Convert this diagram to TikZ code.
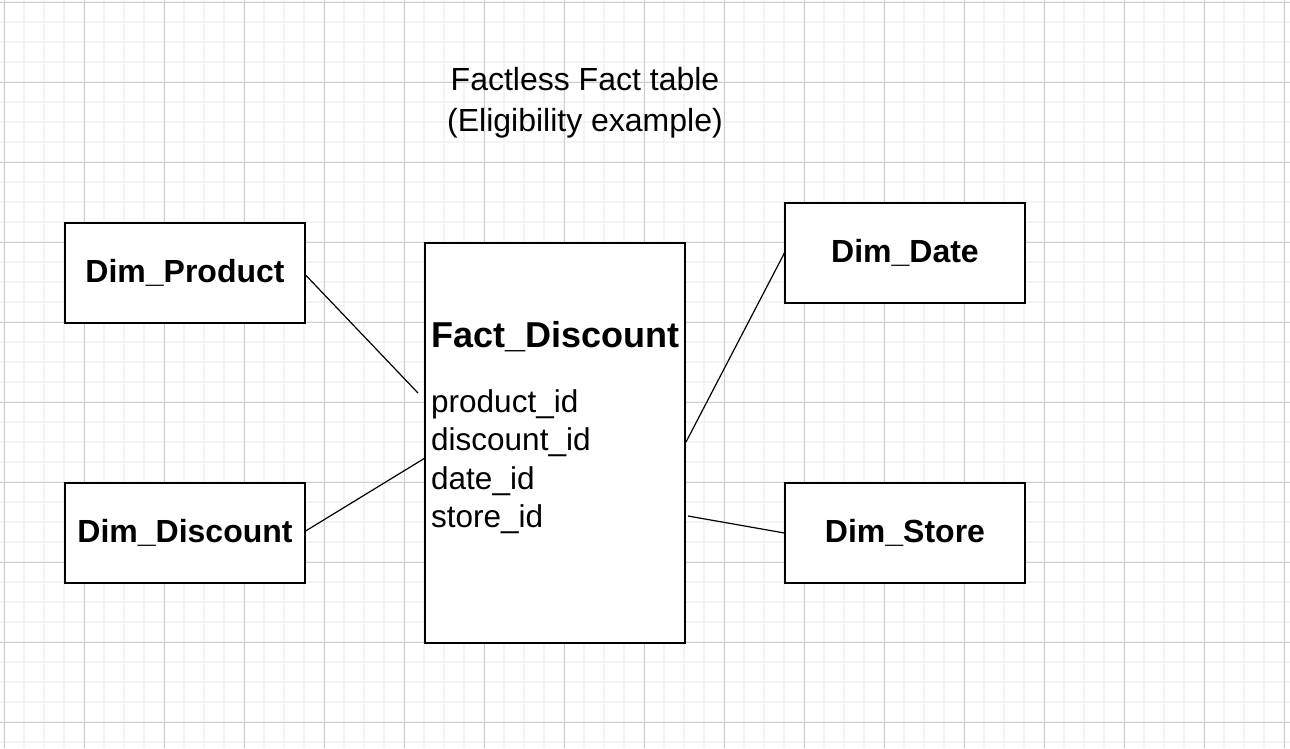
\documentclass[tikz,border=0pt]{standalone}
\usepackage{fontspec}
\setmainfont{Liberation Sans}
\begin{document}
\begin{tikzpicture}[x=1pt,y=-1pt,
  dimbox/.style={draw,line width=1.2pt,fill=white,minimum width=240pt,minimum height=100pt,font=\fontsize{32}{36}\selectfont\bfseries,inner sep=0pt},
  link/.style={line width=1.2pt}]
\useasboundingbox (0,0) rectangle (1290,748);
\fill[white] (0,0) rectangle (1290,748);
\foreach \i in {0,...,64} {\draw[line width=1.6pt,color={rgb,255:red,244;green,244;blue,244}] (4+20*\i,0) -- (4+20*\i,748);}
\foreach \i in {0,...,37} {\draw[line width=1.6pt,color={rgb,255:red,244;green,244;blue,244}] (0,2+20*\i) -- (1290,2+20*\i);}
\foreach \i in {0,...,16} {\draw[line width=0.7pt,color={rgb,255:red,205;green,205;blue,205}] (4+80*\i,0) -- (4+80*\i,748);}
\foreach \i in {0,...,9} {\draw[line width=0.7pt,color={rgb,255:red,205;green,205;blue,205}] (0,2+80*\i) -- (1290,2+80*\i);}
\node[align=center,font=\fontsize{32}{41}\selectfont] (title) at (585,103) {Factless Fact table\\(Eligibility example)};
\node[dimbox] (prod) at (185,273) {Dim\_Product};
\node[dimbox] (disc) at (185,533) {Dim\_Discount};
\node[dimbox] (date) at (905,253) {Dim\_Date};
\node[dimbox] (store) at (905,533) {Dim\_Store};
\node[draw,line width=1.2pt,fill=white,minimum width=260pt,minimum height=400pt] (fact) at (555,443) {};
\node[anchor=west,font=\fontsize{36}{40}\selectfont\bfseries,inner sep=0pt] (fname) at (431,337) {Fact\_Discount};
\node[anchor=north west,align=left,font=\fontsize{31.5}{38.5}\selectfont,inner sep=0pt] (fields) at (431,389) {product\_id\\discount\_id\\date\_id\\store\_id};
\coordinate (p1) at (418,393);
\coordinate (p2) at (425,458);
\coordinate (p3) at (686,442);
\coordinate (p4) at (688,516);
\draw[link] ([yshift=-2pt]prod.east) -- (p1);
\draw[link] ([yshift=2pt]disc.east) -- (p2);
\draw[link] (date.west) -- (p3);
\draw[link] (store.west) -- (p4);
\end{tikzpicture}
\end{document}
